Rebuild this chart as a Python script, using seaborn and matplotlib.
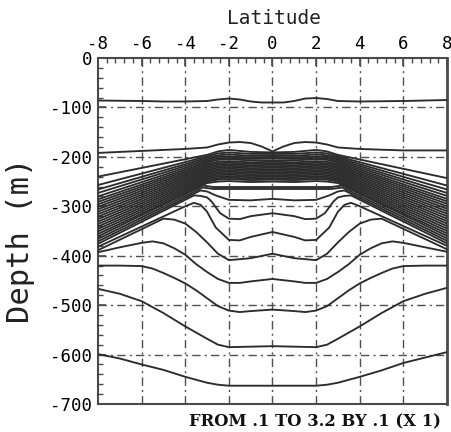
import numpy as np
import pandas as pd
import matplotlib
matplotlib.use("Agg")
import matplotlib.pyplot as plt
import seaborn as sns
from matplotlib.ticker import MultipleLocator

# ---------------- data (depth in m of each contour line) -------------
x_ticks = [-8, -6, -4, -2, 0, 2, 4, 6, 8]
y_ticks = [0, -100, -200, -300, -400, -500, -600, -700]
footer = "FROM .1 TO 3.2 BY .1 (X 1)"

# shallow isoline near -90 m
iso_a_lat = [-8, -6, -5, -4, -3, -2.5, -2, -1.5, -1, -0.5, 0, 0.5, 1, 1.5, 2, 2.5, 3, 4, 6, 8]
iso_a_dep = [-86, -87, -88, -88, -87, -84, -82, -84, -88, -90, -90, -90, -87, -82, -81, -83, -87, -88, -87, -85]

# isoline near -190 m (pinched at the equator)
iso_b_lat = [-8, -6, -4, -3, -2.5, -2, -1.5, -1, -0.5, 0, 0.5, 1, 1.5, 2, 2.5, 3, 4, 6, 8]
iso_b_dep = [-192, -188, -184, -181, -175, -171, -170, -172, -179, -189, -179, -172, -170, -171, -175, -181, -184, -187, -187]

# dense thermocline band: 20 lines, depth at given latitudes
cap_lat = [-8, -3, -2.5, -2, -1, 0, 1, 2, 2.5, 3, 8]
cap_m8 = [-240, -257, -266, -273, -280, -286, -291, -296, -301, -306, -311, -316, -321, -326, -331, -336, -341, -346, -351, -356]
cap_m3 = [-196, -199, -202, -205, -208, -211, -214, -217, -220, -223, -226, -229, -232, -235, -238, -241, -244, -247, -250, -253]
cap_m25 = [-189, -193, -197, -200, -203, -206, -210, -213, -216, -219, -222, -225, -228, -231, -234, -237, -240, -243, -246, -250]
cap_m2 = [-186, -191, -195, -199, -202, -205, -209, -212, -215, -218, -221, -224, -227, -230, -233, -236, -239, -242, -245, -249]
cap_m1 = [-190, -194, -198, -201, -204, -207, -211, -214, -217, -220, -223, -226, -229, -232, -235, -238, -241, -244, -247, -251]
cap_0 = [-191, -194, -197, -200, -203, -207, -210, -213, -216, -219, -222, -225, -228, -231, -234, -237, -240, -243, -246, -250]
cap_p1 = [-190, -194, -198, -201, -204, -207, -211, -214, -217, -220, -223, -226, -229, -232, -235, -238, -241, -244, -247, -251]
cap_p2 = [-186, -191, -195, -199, -202, -205, -209, -212, -215, -218, -221, -224, -227, -230, -233, -236, -239, -242, -245, -249]
cap_p25 = [-189, -193, -197, -200, -203, -206, -210, -213, -216, -219, -222, -225, -228, -231, -234, -237, -240, -243, -246, -250]
cap_p3 = [-196, -199, -202, -205, -208, -211, -214, -217, -220, -223, -226, -229, -232, -235, -238, -241, -244, -247, -250, -253]
cap_p8 = [-243, -258, -266, -273, -279, -285, -290, -295, -300, -305, -310, -315, -320, -325, -330, -335, -340, -345, -350, -355]

# lines leaving the band underneath it
f1_lat = [-8, -3.2, -2.7, -2, 0, 2, 2.7, 3.2, 8]
f1_dep = [-361, -258, -261, -261, -261, -261, -261, -258, -360]
f2_lat = [-8, -3.2, -2.7, -2, 0, 2, 2.7, 3.2, 8]
f2_dep = [-366, -262, -265, -265, -265, -265, -265, -262, -365]

t_lat = [-8, -3.3, -3, -2.6, -2, -1, 0, 1, 2, 2.6, 3, 3.3, 8]
t_dep = [-371, -268, -270, -278, -287, -288, -285, -288, -287, -278, -270, -268, -370]

s_lat = [-8, -3.6, -3.3, -3, -2.8, -2.4, -2, -1.5, -1, 0, 1, 1.5, 2, 2.4, 2.8, 3, 3.3, 3.6, 8]
s_dep = [-376, -278, -279, -282, -290, -314, -325, -326, -320, -314, -320, -326, -325, -314, -290, -282, -279, -278, -375]

r_lat = [-8, -4, -3.6, -3.3, -3, -2.6, -2, -1.5, -1, 0, 1, 1.5, 2, 2.6, 3, 3.3, 3.6, 4, 8]
r_dep = [-382, -300, -293, -297, -311, -343, -368, -369, -362, -352, -362, -369, -368, -343, -311, -297, -293, -300, -380]

q_lat = [-8, -5, -4.5, -4, -3.5, -3, -2.5, -2, -1, 0, 1, 2, 2.5, 3, 3.5, 4, 4.5, 5, 8]
q_dep = [-389, -325, -327, -335, -352, -373, -396, -409, -405, -396, -405, -409, -396, -373, -352, -335, -327, -325, -387]

l456_lat = [-8, -7, -6, -5.5, -5, -4.5, -4, -3.5, -3, -2.5, -2, -1.5, -1, 0, 1, 1.5, 2, 2.5, 3, 3.5, 4, 4.5, 5, 5.5, 6, 7, 8]
l456_dep = [-393, -383, -374, -371, -375, -385, -398, -417, -433, -447, -455, -455, -452, -447, -452, -455, -455, -447, -433, -417, -398, -385, -375, -371, -374, -383, -392]

l512_lat = [-8, -7, -6, -5.5, -5, -4.5, -4, -3.5, -3, -2.5, -2, -1.5, -1, 0, 1, 1.5, 2, 2.5, 3, 3.5, 4, 4.5, 5, 5.5, 6, 7, 8]
l512_dep = [-420, -420, -421, -426, -435, -445, -456, -470, -486, -502, -511, -514, -512, -509, -512, -514, -511, -502, -486, -470, -456, -445, -435, -426, -421, -420, -420]

c_lat = [-8, -7, -6, -5, -4, -3, -2.5, -2, -1, 0, 1, 2, 2.5, 3, 4, 5, 6, 7, 8]
c_dep = [-467, -477, -492, -516, -543, -568, -580, -585, -584, -583, -584, -585, -580, -568, -543, -516, -492, -477, -465]

d_lat = [-8, -7, -6, -5, -4, -3, -2.5, -2, 0, 2, 2.5, 3, 4, 5, 6, 7, 8]
d_dep = [-599, -608, -620, -631, -645, -657, -661, -663, -663, -663, -661, -657, -645, -632, -617, -606, -595]

# ---------------- assemble long table ----------------
rows = []
def add(name, lats, deps):
    for la, de in zip(lats, deps):
        rows.append((name, la, de))

add("a", iso_a_lat, iso_a_dep)
add("b", iso_b_lat, iso_b_dep)
cap_cols = [cap_m8, cap_m3, cap_m25, cap_m2, cap_m1, cap_0, cap_p1, cap_p2, cap_p25, cap_p3, cap_p8]
for i in range(len(cap_m8)):
    add(f"cap{i:02d}", cap_lat, [col[i] for col in cap_cols])
add("f1", f1_lat, f1_dep)
add("f2", f2_lat, f2_dep)
add("t", t_lat, t_dep)
add("s", s_lat, s_dep)
add("r", r_lat, r_dep)
add("q", q_lat, q_dep)
add("l456", l456_lat, l456_dep)
add("l512", l512_lat, l512_dep)
add("c", c_lat, c_dep)
add("d", d_lat, d_dep)
df = pd.DataFrame(rows, columns=["line", "lat", "depth"])

# ---------------- plot ----------------
sns.set_theme(style="white")
plt.rcParams["font.family"] = ["DejaVu Sans"]

fig = plt.figure(figsize=(4.52, 4.32), dpi=100)
ax = fig.add_axes([98 / 452, 1 - 404 / 432, 349 / 452, 346 / 432])

frame_col = "#4a4a4a"
ax.set_xlim(-8, 8)
ax.set_ylim(-700, 0)

# grid (dash-dot)
for xv in x_ticks[1:-1]:
    ax.axvline(xv, color="#505050", lw=1.0, ls=(0, (6, 3, 1.5, 3)), zorder=1)
for yv in y_ticks[1:-1]:
    ax.axhline(yv, color="#505050", lw=1.0, ls=(0, (6, 3, 1.5, 3)), zorder=1)

sns.lineplot(data=df, x="lat", y="depth", units="line", estimator=None, sort=False,
             color="#2c2c2c", linewidth=1.35, ax=ax, legend=False, zorder=3)

ax.set_xlabel("")
ax.set_ylabel("")
ax.set_xticks(x_ticks)
ax.set_yticks(y_ticks)
ax.set_xticklabels([str(v) for v in x_ticks])
ax.set_yticklabels([str(v) for v in y_ticks])
ax.xaxis.set_minor_locator(MultipleLocator(0.4))
ax.yaxis.set_minor_locator(MultipleLocator(20))
ax.xaxis.tick_top()
ax.tick_params(axis="x", which="both", direction="in", top=True, bottom=False,
               labeltop=True, labelbottom=False, color=frame_col)
ax.tick_params(axis="y", which="both", direction="in", left=True, right=False, color=frame_col)
ax.tick_params(which="major", length=6, width=1.2, labelsize=12.5, labelcolor="black",
               labelfontfamily="DejaVu Sans Mono")
ax.tick_params(which="minor", length=3.5, width=1.0)
ax.tick_params(axis="x", which="major", pad=3.5)
ax.tick_params(axis="y", which="major", pad=4)

for side, sp in ax.spines.items():
    sp.set_visible(True)
    sp.set_color(frame_col)
    sp.set_linewidth(1.5)
ax.spines["right"].set_linewidth(2.0)
ax.set_facecolor("white")

fig.text(274 / 452, 1 - 19 / 432, "Latitude", ha="center", va="center", fontsize=14,
         family="DejaVu Sans Mono", color="#222222")
fig.text(21 / 452, 1 - 240 / 432, "Depth (m)", rotation=90, ha="center", va="center",
         fontsize=22, family="DejaVu Sans Mono", color="#222222")
fig.text(441 / 452, 1 - 422 / 432, footer, ha="right", va="center", fontsize=11.8,
         fontweight="bold", family="DejaVu Serif", color="#111111")

fig.savefig("out.png", dpi=100)
